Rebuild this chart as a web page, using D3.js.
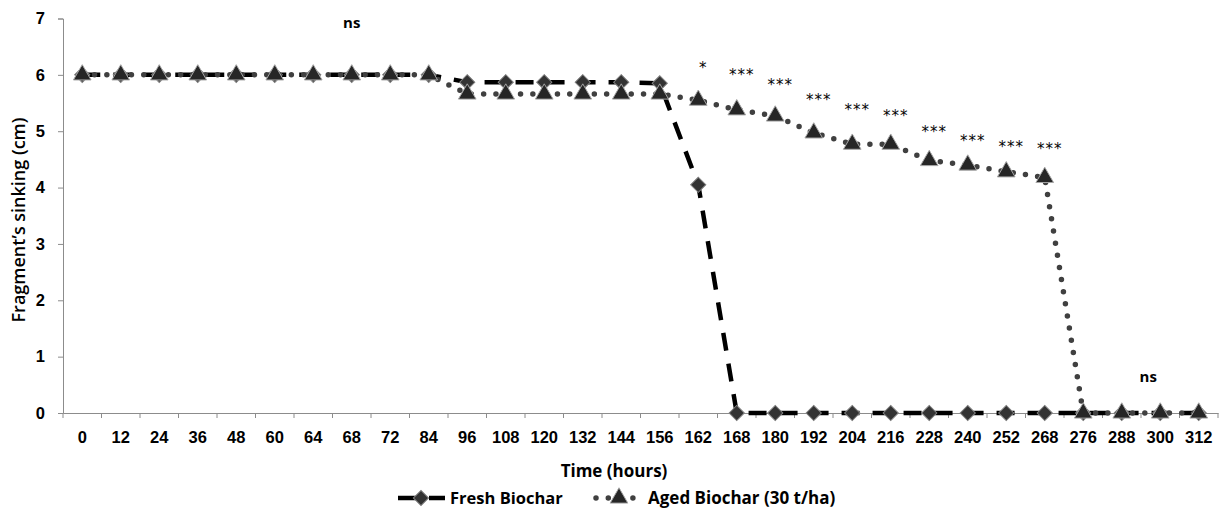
<!DOCTYPE html>
<html>
<head>
<meta charset="utf-8">
<script src="https://cdn.jsdelivr.net/npm/d3@7"></script>
<style>
    body { margin: 0; background: #fff; }
    svg { display: block; font-family: 'Open Sans', Lato, sans-serif; }
    .tick-label { font-size: 16.5px; font-weight: 700; fill: #000; }
</style>
</head>
<body>
<svg id="chart" width="1221" height="510"></svg>
<script>
'use strict';

var hours = ['0', '12', '24', '36', '48', '60', '64', '68', '72', '84', '96', '108', '120', '132', '144',
    '156', '162', '168', '180', '192', '204', '216', '228', '240', '252', '268', '276', '288', '300', '312'];

var freshBiochar = [6, 6, 6, 6, 6, 6, 6, 6, 6, 6, 5.87, 5.87, 5.87, 5.87, 5.87,
    5.85, 4.05, 0, 0, 0, 0, 0, 0, 0, 0, 0, 0, 0, 0, 0];

var agedBiochar = [6, 6, 6, 6, 6, 6, 6, 6, 6, 6, 5.66, 5.66, 5.66, 5.66, 5.66,
    5.66, 5.55, 5.38, 5.27, 4.97, 4.77, 4.77, 4.48, 4.4, 4.28, 4.18, 0, 0, 0, 0];

var yTicks = [0, 1, 2, 3, 4, 5, 6, 7];

// significance labels: category, text, baseline height (cm)
var sigHours = ['68', '162', '168', '180', '192', '204', '216', '228', '240', '252', '268', '300'];
var sigLabels = ['ns', '*', '***', '***', '***', '***', '***', '***', '***', '***', '***', 'ns'];
var sigHeights = [6.84, 6.04, 5.91, 5.74, 5.47, 5.29, 5.19, 4.9, 4.74, 4.64, 4.6, 0.55];

var seriesNames = ['Fresh Biochar', 'Aged Biochar (30 t/ha)'];

function draw () {
    var svg = d3.select('#chart');
    var left = 63, right = 1218, top = 18.5, bottom = 413;

    var x = d3.scaleBand().domain(hours).range([left, right]).padding(0);
    var y = d3.scaleLinear().domain([0, 7]).range([bottom, top]);
    var cx = function (h) { return x(h) + x.bandwidth() / 2; };

    // Axes
    var yAxis = svg.append('g')
        .attr('transform', 'translate(' + left + ',0)')
        .call(d3.axisLeft(y).tickValues(yTicks).tickSize(5).tickPadding(13).tickFormat(d3.format('d')));
    yAxis.selectAll('line, path').attr('stroke', '#8c8c8c');
    yAxis.selectAll('text').attr('class', 'tick-label').attr('font-family', null).attr('font-size', null);

    var xAxis = svg.append('g')
        .attr('transform', 'translate(0,' + bottom + ')')
        .call(d3.axisBottom(x).tickSize(0).tickPadding(18));
    xAxis.select('.domain').attr('stroke', '#8c8c8c');
    xAxis.selectAll('text').attr('class', 'tick-label').attr('font-family', null).attr('font-size', null);

    svg.append('g')
        .selectAll('line')
        .data(hours.concat(['end']))
        .enter().append('line')
            .attr('x1', function (d) { return d === 'end' ? right : x(d); })
            .attr('x2', function (d) { return d === 'end' ? right : x(d); })
            .attr('y1', bottom)
            .attr('y2', bottom + 5)
            .attr('stroke', '#8c8c8c');

    // Axis titles
    svg.append('text')
        .attr('x', 614)
        .attr('y', 477)
        .attr('text-anchor', 'middle')
        .style('font-size', '17px')
        .style('font-weight', 700)
        .text('Time (hours)');

    svg.append('text')
        .attr('transform', 'translate(25,220) rotate(-90)')
        .attr('text-anchor', 'middle')
        .style('font-size', '18px')
        .style('font-weight', 600)
        .text('Fragment\u2019s sinking (cm)');

    var line = function (values) {
        return d3.line()
            .x(function (d, i) { return cx(hours[i]); })
            .y(function (d) { return y(d); })(values);
    };

    var diamond = d3.symbol().type(d3.symbolSquare).size(115);
    var triangle = d3.symbol().type(d3.symbolTriangle).size(135);

    // Fresh biochar
    svg.append('path')
        .attr('d', line(freshBiochar))
        .attr('fill', 'none')
        .attr('stroke', '#000')
        .attr('stroke-width', 4.5)
        .attr('stroke-dasharray', '18 13');

    svg.append('g')
        .selectAll('path')
        .data(freshBiochar)
        .enter().append('path')
            .attr('d', diamond)
            .attr('transform', function (d, i) {
                return 'translate(' + cx(hours[i]) + ',' + y(d) + ') rotate(45)';
            })
            .attr('fill', '#333')
            .attr('stroke', '#808080')
            .attr('stroke-width', 1);

    // Aged biochar
    svg.append('path')
        .attr('d', line(agedBiochar))
        .attr('fill', 'none')
        .attr('stroke', '#404040')
        .attr('stroke-width', 5.5)
        .attr('stroke-linecap', 'round')
        .attr('stroke-dasharray', '0 12.3');

    svg.append('g')
        .selectAll('path')
        .data(agedBiochar)
        .enter().append('path')
            .attr('d', triangle)
            .attr('transform', function (d, i) {
                return 'translate(' + cx(hours[i]) + ',' + y(d) + ')';
            })
            .attr('fill', '#262626')
            .attr('stroke', '#a6a6a6')
            .attr('stroke-width', 1);

    // Significance labels
    svg.append('g')
        .style('opacity', 0.99)
        .selectAll('text')
        .data(sigLabels)
        .enter().append('text')
            .attr('x', function (d, i) { return cx(sigHours[i]); })
            .attr('y', function (d, i) { return y(sigHeights[i]); })
            .attr('dx', function (d, i) {
                if (i === sigLabels.length - 1) { return -12; }
                return d === 'ns' ? 0 : 5;
            })
            .attr('text-anchor', 'middle')
            .style('font-family', function (d) { return d === 'ns' ? null : "'DejaVu Sans', sans-serif"; })
            .style('font-size', '15px')
            .style('font-weight', function (d) { return d === 'ns' ? 700 : 400; })
            .style('letter-spacing', function (d) { return d === 'ns' ? '0px' : '1px'; })
            .attr('fill', '#000')
            .text(function (d) { return d; });

    // Legend
    var legend = svg.append('g');
    var ly = 498;

    legend.append('line')
        .attr('x1', 398).attr('x2', 445)
        .attr('y1', ly).attr('y2', ly)
        .attr('stroke', '#000')
        .attr('stroke-width', 4.5)
        .attr('stroke-dasharray', '18 13');
    legend.append('path')
        .attr('d', diamond)
        .attr('transform', 'translate(421,' + ly + ') rotate(45)')
        .attr('fill', '#333')
        .attr('stroke', '#808080');
    legend.append('text')
        .attr('x', 450).attr('y', 504)
        .style('font-size', '16.5px')
        .style('font-weight', 700)
        .text(seriesNames[0]);

    legend.append('line')
        .attr('x1', 596).attr('x2', 640)
        .attr('y1', ly).attr('y2', ly)
        .attr('stroke', '#404040')
        .attr('stroke-width', 5.5)
        .attr('stroke-linecap', 'round')
        .attr('stroke-dasharray', '0 12.3');
    legend.append('path')
        .attr('d', triangle)
        .attr('transform', 'translate(619,' + ly + ')')
        .attr('fill', '#262626')
        .attr('stroke', '#a6a6a6');
    legend.append('text')
        .attr('x', 648).attr('y', 504)
        .style('font-size', '17px')
        .style('font-weight', 700)
        .text(seriesNames[1]);
}

draw();
</script>
</body>
</html>
